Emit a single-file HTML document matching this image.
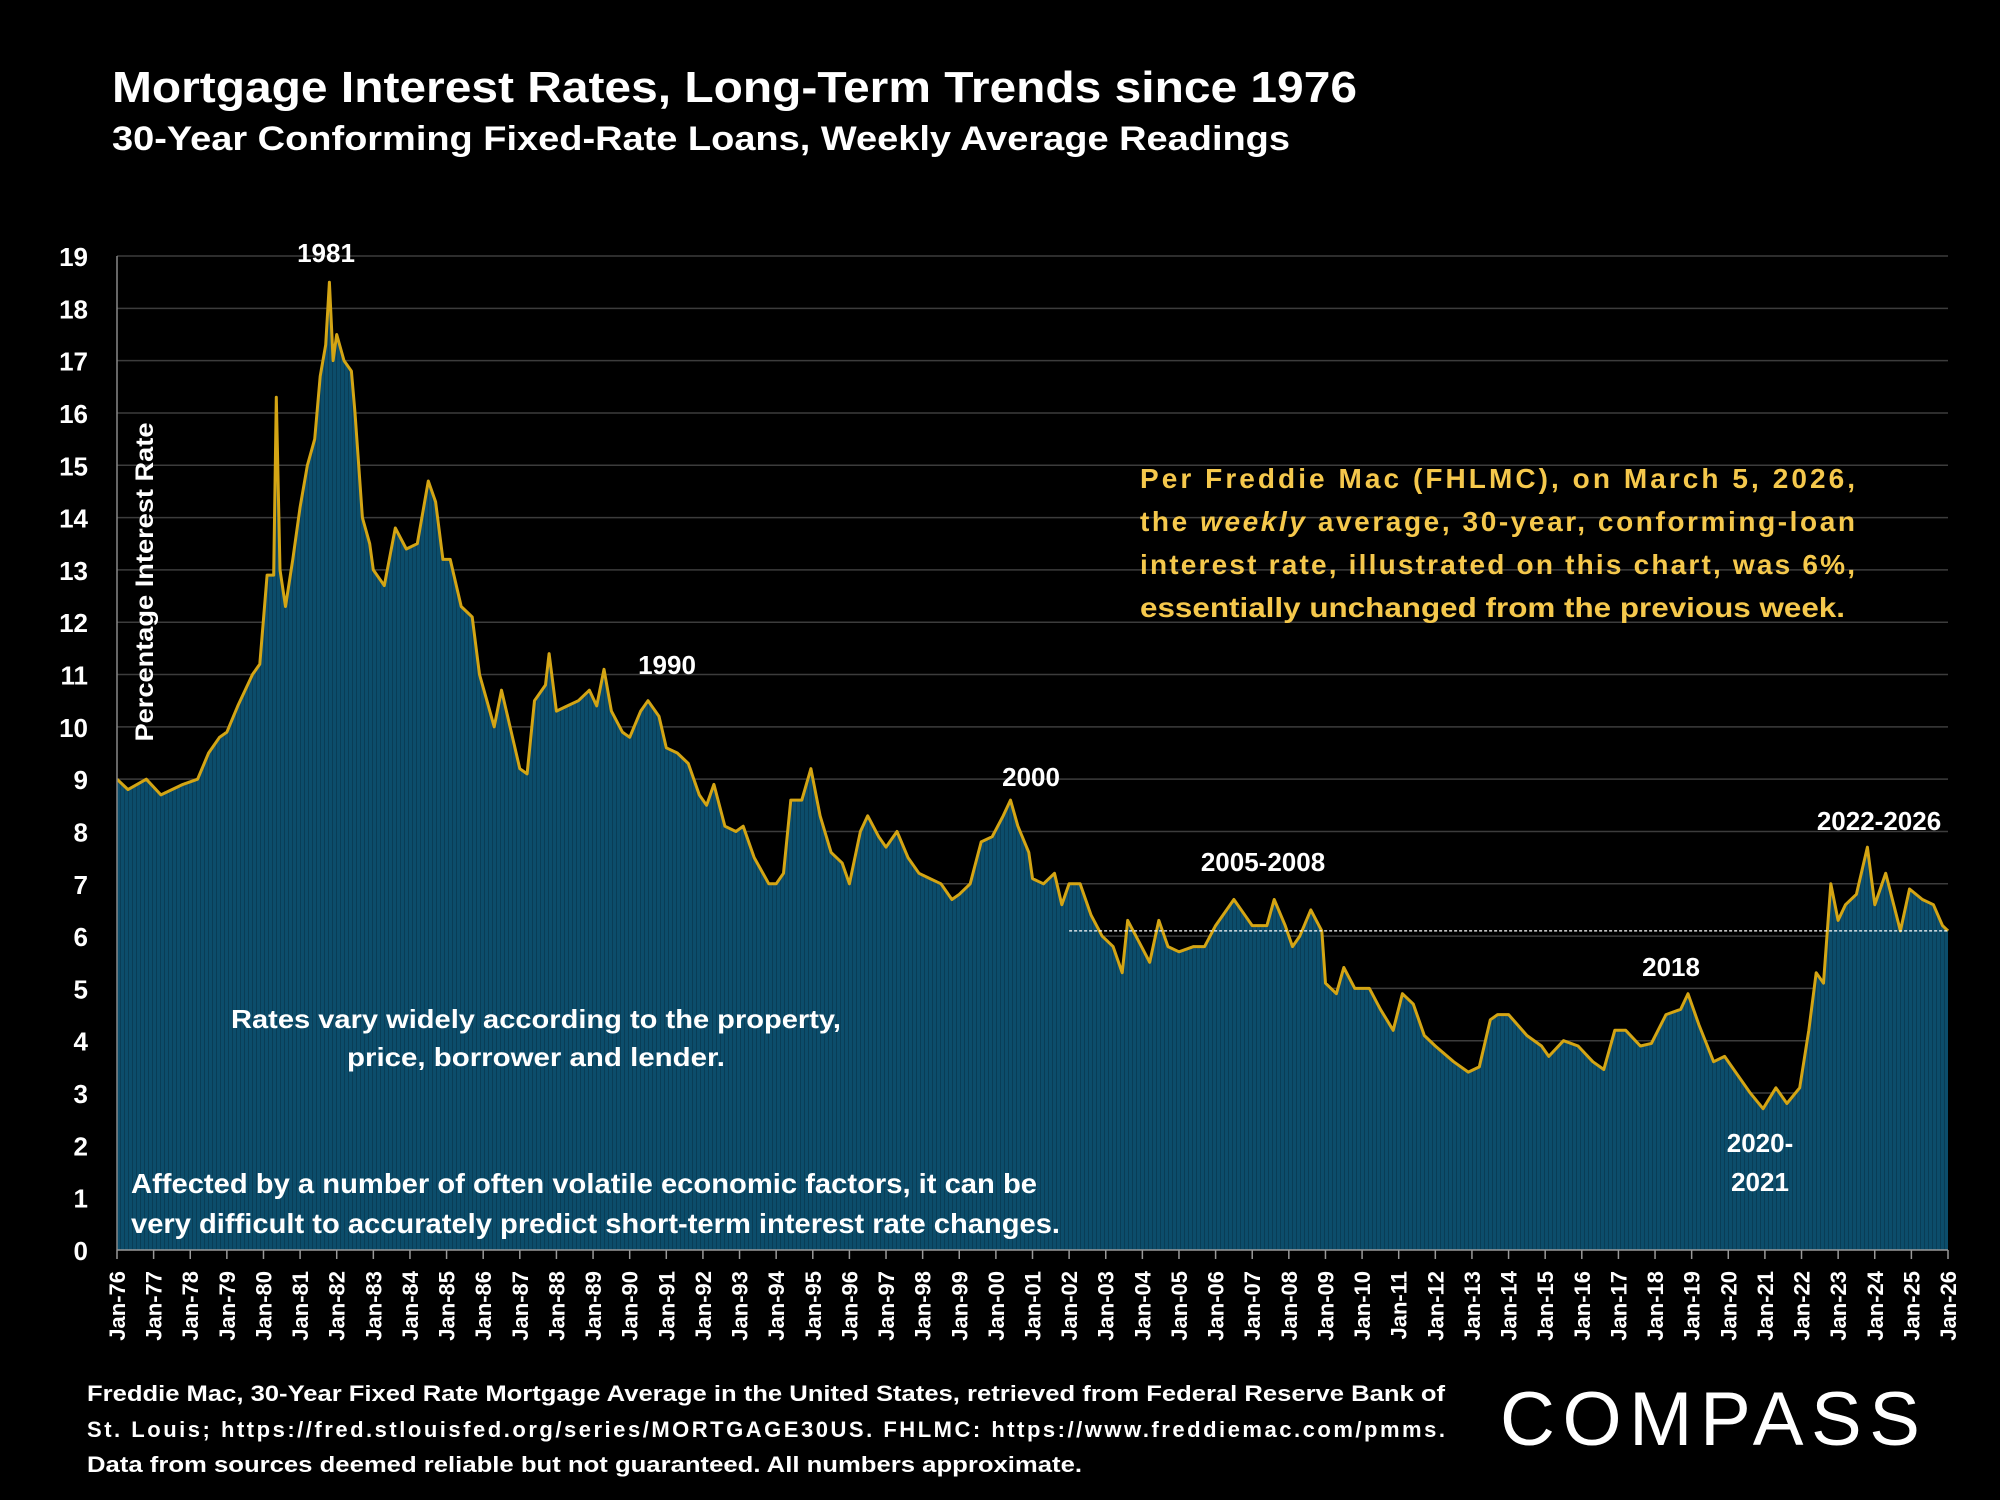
<!DOCTYPE html>
<html><head><meta charset="utf-8"><style>
html,body{margin:0;padding:0;background:#000;}
svg{display:block;font-family:"Liberation Sans",sans-serif;font-weight:bold;}
</style></head><body>
<svg id="chart" width="2000" height="1500" viewBox="0 0 2000 1500" xmlns="http://www.w3.org/2000/svg">
<defs>
<pattern id="stripes" width="4" height="10" patternUnits="userSpaceOnUse">
<rect width="4" height="10" fill="#0c4d6b"/><rect width="1" height="10" fill="#093d56"/>
</pattern>
<clipPath id="plotclip"><rect x="117" y="200" width="1832" height="1050"/></clipPath>
</defs>
<rect width="2000" height="1500" fill="#000"/>
<text x="112" y="102" font-size="44" fill="#fff" textLength="1245" lengthAdjust="spacingAndGlyphs">Mortgage Interest Rates, Long-Term Trends since 1976</text>
<text x="112" y="150" font-size="34" fill="#fff" textLength="1178" lengthAdjust="spacingAndGlyphs">30-Year Conforming Fixed-Rate Loans, Weekly Average Readings</text>
<g id="grid"></g>
<g id="area" clip-path="url(#plotclip)"></g>
<g id="axes"></g>
<text transform="translate(153,582) rotate(-90)" text-anchor="middle" font-size="25" fill="#fff" textLength="319" lengthAdjust="spacingAndGlyphs">Percentage Interest  Rate</text>
<g fill="#fff" font-size="26" text-anchor="middle">
<text x="326" y="262">1981</text>
<text x="667" y="674">1990</text>
<text x="1031" y="786">2000</text>
<text x="1263" y="871">2005-2008</text>
<text x="1879" y="830">2022-2026</text>
<text x="1671" y="976">2018</text>
<text x="1760" y="1152">2020-</text>
<text x="1760" y="1191">2021</text>
</g>
<g fill="#f5c84c" font-size="28">
<text x="1140" y="488" textLength="715" lengthAdjust="spacing">Per Freddie Mac (FHLMC), on March 5, 2026,</text>
<text x="1140" y="531" textLength="715" lengthAdjust="spacing">the <tspan font-style="italic">weekly</tspan> average, 30-year, conforming-loan</text>
<text x="1140" y="574" textLength="715" lengthAdjust="spacing">interest rate, illustrated on this chart, was 6%,</text>
<text x="1140" y="617" textLength="705" lengthAdjust="spacingAndGlyphs">essentially unchanged from the previous week.</text>
</g>
<g fill="#fff" font-size="26" text-anchor="middle">
<text x="536" y="1028" textLength="610" lengthAdjust="spacingAndGlyphs">Rates vary widely according to the property,</text>
<text x="536" y="1066" textLength="378" lengthAdjust="spacingAndGlyphs">price, borrower and lender.</text>
</g>
<g fill="#fff" font-size="28">
<text x="131" y="1193" textLength="906" lengthAdjust="spacingAndGlyphs">Affected by a number of often volatile economic factors, it can be</text>
<text x="131" y="1233" textLength="929" lengthAdjust="spacingAndGlyphs">very difficult to accurately predict short-term interest rate changes.</text>
</g>
<g fill="#fff" font-size="22">
<text x="87" y="1401" textLength="1358" lengthAdjust="spacingAndGlyphs">Freddie Mac, 30-Year Fixed Rate Mortgage Average in the United States, retrieved from Federal Reserve Bank of</text>
<text x="87" y="1437" textLength="1358" lengthAdjust="spacing">St.  Louis;  https://fred.stlouisfed.org/series/MORTGAGE30US.  FHLMC:  https://www.freddiemac.com/pmms.</text>
<text x="87" y="1472" textLength="995" lengthAdjust="spacingAndGlyphs">Data from sources deemed reliable but not guaranteed. All numbers approximate.</text>
</g>
<g>
<text x="1500" y="1445" font-size="76" font-weight="normal" fill="#fff" textLength="420" lengthAdjust="spacing">COMPASS</text>
</g>
</svg>
<script>
const yTicks=[0,1,2,3,4,5,6,7,8,9,10,11,12,13,14,15,16,17,18,19];
const xYears=[1976,1977,1978,1979,1980,1981,1982,1983,1984,1985,1986,1987,1988,1989,1990,1991,1992,1993,1994,1995,1996,1997,1998,1999,2000,2001,2002,2003,2004,2005,2006,2007,2008,2009,2010,2011,2012,2013,2014,2015,2016,2017,2018,2019,2020,2021,2022,2023,2024,2025,2026];
const xLabels=xYears.map(y=>'Jan-'+String(y).slice(2));
const dates=[1976.0,1976.3,1976.8,1977.2,1977.8,1978.2,1978.5,1978.8,1979.0,1979.3,1979.7,1979.9,1980.1,1980.28,1980.35,1980.45,1980.6,1980.8,1981.0,1981.2,1981.4,1981.55,1981.7,1981.8,1981.9,1982.0,1982.2,1982.4,1982.5,1982.7,1982.9,1983.0,1983.3,1983.6,1983.9,1984.2,1984.5,1984.7,1984.9,1985.1,1985.4,1985.7,1985.9,1986.1,1986.3,1986.5,1986.8,1987.0,1987.2,1987.4,1987.7,1987.8,1988.0,1988.3,1988.6,1988.9,1989.1,1989.3,1989.5,1989.8,1990.0,1990.3,1990.5,1990.8,1991.0,1991.3,1991.6,1991.9,1992.1,1992.3,1992.6,1992.9,1993.1,1993.4,1993.8,1994.0,1994.2,1994.4,1994.7,1994.95,1995.2,1995.5,1995.8,1996.0,1996.3,1996.5,1996.8,1997.0,1997.3,1997.6,1997.9,1998.2,1998.5,1998.8,1999.0,1999.3,1999.6,1999.9,2000.2,2000.4,2000.6,2000.9,2001.0,2001.3,2001.6,2001.8,2002.0,2002.3,2002.6,2002.9,2003.2,2003.45,2003.6,2003.9,2004.2,2004.45,2004.7,2005.0,2005.4,2005.7,2006.0,2006.5,2006.8,2007.0,2007.4,2007.6,2007.9,2008.1,2008.3,2008.6,2008.9,2009.0,2009.3,2009.5,2009.8,2010.2,2010.5,2010.85,2011.1,2011.4,2011.7,2012.0,2012.5,2012.9,2013.2,2013.5,2013.7,2014.0,2014.5,2014.9,2015.1,2015.5,2015.9,2016.3,2016.6,2016.9,2017.2,2017.6,2017.9,2018.3,2018.7,2018.9,2019.2,2019.6,2019.9,2020.2,2020.6,2020.95,2021.3,2021.6,2021.95,2022.2,2022.4,2022.6,2022.8,2023.0,2023.2,2023.5,2023.8,2024.0,2024.3,2024.7,2024.95,2025.3,2025.6,2025.85,2026.0];
const rates=[9.0,8.8,9.0,8.7,8.9,9.0,9.5,9.8,9.9,10.4,11.0,11.2,12.9,12.9,16.3,13.0,12.3,13.2,14.2,15.0,15.5,16.7,17.3,18.5,17.0,17.5,17.0,16.8,16.0,14.0,13.5,13.0,12.7,13.8,13.4,13.5,14.7,14.3,13.2,13.2,12.3,12.1,11.0,10.5,10.0,10.7,9.8,9.2,9.1,10.5,10.8,11.4,10.3,10.4,10.5,10.7,10.4,11.1,10.3,9.9,9.8,10.3,10.5,10.2,9.6,9.5,9.3,8.7,8.5,8.9,8.1,8.0,8.1,7.5,7.0,7.0,7.2,8.6,8.6,9.2,8.3,7.6,7.4,7.0,8.0,8.3,7.9,7.7,8.0,7.5,7.2,7.1,7.0,6.7,6.8,7.0,7.8,7.9,8.3,8.6,8.1,7.6,7.1,7.0,7.2,6.6,7.0,7.0,6.4,6.0,5.8,5.3,6.3,5.9,5.5,6.3,5.8,5.7,5.8,5.8,6.2,6.7,6.4,6.2,6.2,6.7,6.2,5.8,6.0,6.5,6.1,5.1,4.9,5.4,5.0,5.0,4.6,4.2,4.9,4.7,4.1,3.9,3.6,3.4,3.5,4.4,4.5,4.5,4.1,3.9,3.7,4.0,3.9,3.6,3.45,4.2,4.2,3.9,3.95,4.5,4.6,4.9,4.3,3.6,3.7,3.4,3.0,2.7,3.1,2.8,3.1,4.2,5.3,5.1,7.0,6.3,6.6,6.8,7.7,6.6,7.2,6.1,6.9,6.7,6.6,6.2,6.1];
const currentRate=6.1;
const L=117,R=1948,Y0=1250,Y19=256;
const xs=d=>L+(d-1976)/(2026-1976)*(R-L);
const ys=v=>Y0-v/19*(Y0-Y19);
const NS='http://www.w3.org/2000/svg';
function mk(tag,attrs,parent){const e=document.createElementNS(NS,tag);for(const k in attrs)e.setAttribute(k,attrs[k]);parent.appendChild(e);return e;}
const grid=document.getElementById('grid'),area=document.getElementById('area'),axes=document.getElementById('axes');
yTicks.forEach(t=>{
  if(t>0){const g=mk('line',{x1:L,x2:R,y1:ys(t),y2:ys(t),stroke:'#3c3c3c','stroke-width':1.5},grid);
  
  }
  const tx=mk('text',{x:88,y:ys(t)+10,'text-anchor':'end','font-size':26,fill:'#fff'},axes);
  tx.textContent=t;
  
  
});
let d='M'+xs(dates[0])+','+ys(0);
dates.forEach((t,i)=>{d+=' L'+xs(t).toFixed(1)+','+ys(rates[i]).toFixed(1);});
d+=' L'+xs(dates[dates.length-1])+','+ys(0)+' Z';
const a=mk('path',{d:d,fill:'url(#stripes)'},area);


let ld='';dates.forEach((t,i)=>{ld+=(i?' L':'M')+xs(t).toFixed(1)+','+ys(rates[i]).toFixed(1);});
const ln=mk('path',{d:ld,fill:'none',stroke:'#d4a514','stroke-width':3,'stroke-linejoin':'round'},area);


const cl=mk('line',{x1:xs(2002),x2:R,y1:ys(currentRate),y2:ys(currentRate),stroke:'#fff','stroke-width':1.2,'stroke-dasharray':'3,2'},area);


const yl=mk('line',{x1:L,x2:L,y1:Y19,y2:Y0,stroke:'#888','stroke-width':1.5},axes);


const xl=mk('line',{x1:L,x2:R,y1:Y0,y2:Y0,stroke:'#999','stroke-width':1.5},axes);


xYears.forEach((yr,i)=>{
  const x=xs(yr);
  const tk=mk('line',{x1:x,x2:x,y1:Y0,y2:Y0+9,stroke:'#999','stroke-width':1.5},axes);
  
  
  const tx=mk('text',{transform:'translate('+(x+8)+','+(Y0+21)+') rotate(-90)','text-anchor':'end','font-size':22,fill:'#fff'},axes);
  tx.textContent=xLabels[i];
  
  
});
</script>
</body></html>
